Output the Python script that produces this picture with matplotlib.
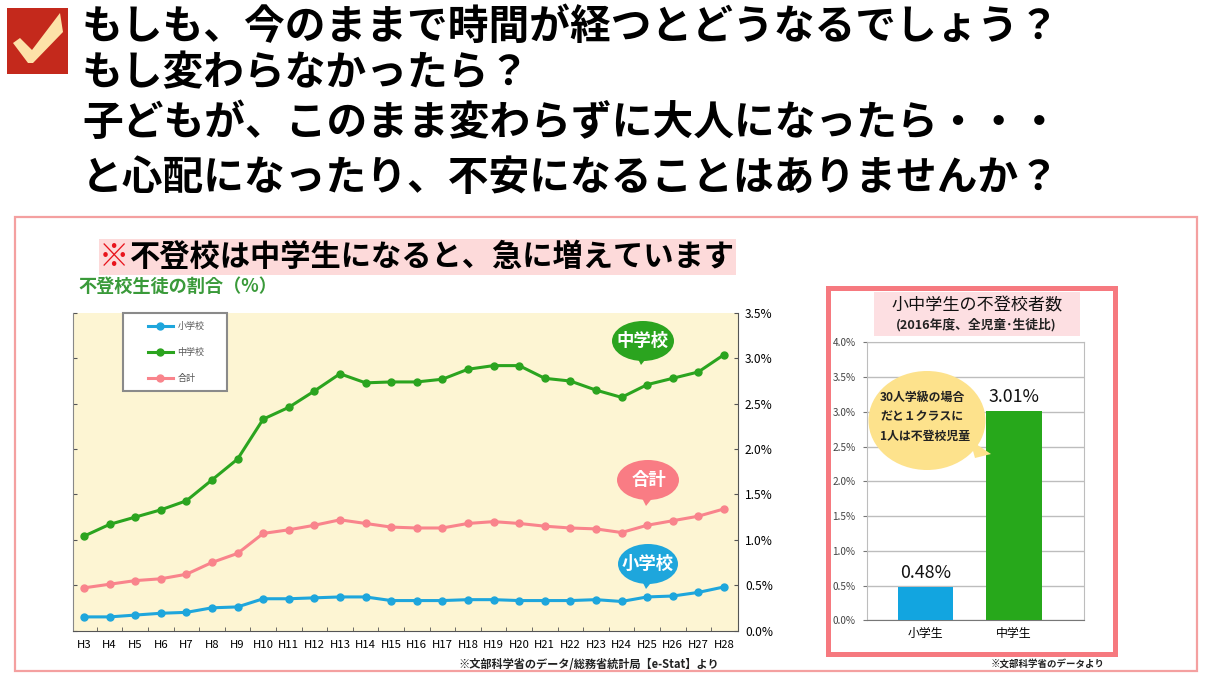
import numpy as np
import matplotlib.pyplot as plt
from matplotlib.patches import Ellipse, Rectangle

plt.rcParams["font.family"] = ["Noto Sans CJK JP", "DejaVu Sans"]

WIDTH = 1213
HEIGHT = 680

YEARS = [f"H{i}" for i in range(3, 29)]
ELEMENTARY = [0.15, 0.15, 0.17, 0.19, 0.20, 0.25, 0.26, 0.35, 0.35, 0.36, 0.37, 0.37, 0.33,
              0.33, 0.33, 0.34, 0.34, 0.33, 0.33, 0.33, 0.34, 0.32, 0.37, 0.38, 0.42, 0.48]
JUNIOR = [1.04, 1.17, 1.25, 1.33, 1.43, 1.66, 1.89, 2.33, 2.46, 2.64, 2.83, 2.73, 2.74,
          2.74, 2.77, 2.88, 2.92, 2.92, 2.78, 2.75, 2.65, 2.57, 2.71, 2.78, 2.85, 3.04]
TOTAL = [0.47, 0.51, 0.55, 0.57, 0.62, 0.75, 0.85, 1.07, 1.11, 1.16, 1.22, 1.18, 1.14,
         1.13, 1.13, 1.18, 1.20, 1.18, 1.15, 1.13, 1.12, 1.08, 1.16, 1.21, 1.26, 1.34]

BLUE = "#1ea6dc"
GREEN = "#2ba41f"
PINK = "#f9848c"


def pixel_rect(left, top, right, bottom):
    """
    Turn pixel edges of the picture into a rectangle for plt.axes.
    """
    return [left / WIDTH, 1 - bottom / HEIGHT, (right - left) / WIDTH, (bottom - top) / HEIGHT]


def plot_rates() -> None:
    """
    Plot the three yearly lines on the yellow panel.
    """
    plt.axes(pixel_rect(73, 313, 738, 630.5), facecolor="#fdf5d3")
    x = np.arange(len(YEARS))
    plt.plot(x, ELEMENTARY, color=BLUE, lw=2.2, marker="o", ms=5, label="小学校")
    plt.plot(x, JUNIOR, color=GREEN, lw=2.2, marker="o", ms=5, label="中学校")
    plt.plot(x, TOTAL, color=PINK, lw=2.2, marker="o", ms=5, label="合計")
    plt.xlim(-0.43, 25.55)
    plt.ylim(0, 3.5)

    plt.xticks(x, YEARS, fontsize=8.2)
    plt.xticks(np.arange(0.5, 25), minor=True)
    plt.yticks(np.arange(0, 3.6, 0.5), [f"{v:.1f}%" for v in np.arange(0, 3.6, 0.5)], fontsize=8.6)
    plt.tick_params(axis="x", which="major", length=0, pad=7)
    plt.tick_params(axis="x", which="minor", direction="in", length=3, color="#555555")
    plt.tick_params(axis="y", direction="in", length=3, color="#555555", left=True, right=True,
                    labelleft=False, labelright=True, pad=5)

    ax = plt.gca()
    ax.spines["top"].set_visible(False)
    ax.spines["left"].set_color("#888888")
    ax.spines["bottom"].set_color("#555555")
    ax.spines["right"].set_color("#555555")

    # the box of the legend is wider than its entries
    ax.add_patch(Rectangle((0.0747, 0.753), 0.157, 0.247, transform=ax.transAxes, facecolor="white",
                           edgecolor="#8a8a8a", lw=1.5, zorder=4, clip_on=False))
    legend = plt.legend(loc="upper left", bbox_to_anchor=(0.1125, 0.972), frameon=False, fontsize=6.5,
                        labelcolor="#555555", handlelength=2.8, handletextpad=0.5, labelspacing=1.9,
                        borderpad=0, borderaxespad=0)
    legend.set_zorder(5)


def plot_bars() -> None:
    """
    Plot the 2016 bars for the two school levels.
    """
    plt.axes(pixel_rect(866.7, 342.3, 1084, 620.3))
    rates = [0.48, 3.01]
    plt.bar([0, 1], rates, width=0.63, color=["#12a5e0", "#27a81b"], zorder=3)
    for i, rate in enumerate(rates):
        plt.text(i, rate + 0.07, f"{rate:.2f}%", ha="center", va="bottom", fontsize=12.8, color="#111111", zorder=4)
    plt.xlim(-0.664, 1.79)
    plt.ylim(0, 4)

    plt.xticks([0, 1], ["小学生", "中学生"], fontsize=8.6)
    plt.yticks(np.arange(0, 4.1, 0.5), [f"{v:.1f}%" for v in np.arange(0, 4.1, 0.5)],
               fontsize=7.2, color="#444444")
    plt.tick_params(axis="x", length=0, pad=5)
    plt.tick_params(axis="y", length=3, color="#777777", pad=5)
    plt.grid(axis="y", color="#bdbdbd", lw=1, zorder=0)

    ax = plt.gca()
    for side in ["top", "left", "right"]:
        ax.spines[side].set_color("#bdbdbd")
    ax.spines["bottom"].set_color("#777777")


def bubble(ax, cx, cy, w, h, tail, color) -> None:
    """
    Speech bubble: an ellipse with a small pointed tail.
    """
    ax.add_patch(Ellipse((cx, cy), w, h, facecolor=color, edgecolor="none"))
    plt.fill([tail[0] - 5, tail[0] + 8, tail[0]], [tail[1] - 10, tail[1] - 10, tail[1]], color=color, lw=0)


def plot_overlay() -> None:
    """
    Heading, frames, bubbles and notes, all placed in picture pixels.
    """
    ax = plt.axes([0, 0, 1, 1], zorder=5)
    plt.xlim(0, WIDTH)
    plt.ylim(HEIGHT, 0)
    plt.axis("off")

    # check mark
    ax.add_patch(Rectangle((7, 8), 61, 66, facecolor="#c4291c", edgecolor="none"))
    plt.fill([13, 20, 32, 60, 63, 33, 28], [43, 38, 50, 13, 32, 63, 63], color="#fde2a8", lw=0)

    lines = ["もしも、今のままで時間が経つとどうなるでしょう？", "もし変わらなかったら？",
             "子どもが、このまま変わらずに大人になったら・・・", "と心配になったり、不安になることはありませんか？"]
    for line, y in zip(lines, [27, 74, 123, 178]):
        plt.text(82, y, line, fontsize=29.3, fontweight="bold", va="center", color="black")

    # frames
    ax.add_patch(Rectangle((15, 217), 1182, 454, facecolor="none", edgecolor="#f4a0a0", lw=1.6))
    ax.add_patch(Rectangle((828, 288), 287, 366, facecolor="none", edgecolor="#f6797f", lw=3.6))

    # left heading
    ax.add_patch(Rectangle((99, 239), 637, 36, facecolor="#fddada", edgecolor="none"))
    plt.text(99, 257, "※", fontsize=21.8, fontweight="bold", va="center", color="#e8141c")
    plt.text(130, 257, "不登校は中学生になると、急に増えています", fontsize=21.8, fontweight="bold",
             va="center", color="black")
    plt.text(78, 286, "不登校生徒の割合（%）", fontsize=13.1, fontweight="bold", va="center", color="#3a9a3a")

    # right heading
    ax.add_patch(Rectangle((874, 292), 206, 44, facecolor="#fddfe2", edgecolor="none"))
    plt.text(977, 305, "小中学生の不登校者数", fontsize=12.3, ha="center", va="center", color="#111111")
    plt.text(976, 325, "(2016年度、全児童･生徒比)", fontsize=9.2, fontweight="bold", ha="center", va="center",
             color="#222222")

    # bubbles on the lines
    bubble(ax, 643, 341, 62, 40, (641, 365), GREEN)
    plt.text(643, 341, "中学校", fontsize=12.5, fontweight="bold", ha="center", va="center", color="white")
    bubble(ax, 648, 480, 62, 40, (646, 506), "#f97c84")
    plt.text(649, 480, "合計", fontsize=12.5, fontweight="bold", ha="center", va="center", color="white")
    bubble(ax, 648, 564, 60, 40, (646, 589), BLUE)
    plt.text(648, 564, "小学校", fontsize=12.5, fontweight="bold", ha="center", va="center", color="white")

    # bubble on the bars
    ax.add_patch(Ellipse((927, 420.5), 117, 99, facecolor="#fde28c", edgecolor="none"))
    plt.fill([970, 975, 991], [440, 458, 454], color="#fde28c", lw=0)
    for line, y in zip(["30人学級の場合", "だと１クラスに", "1人は不登校児童"], [397, 417, 436]):
        plt.text(880, y, line, fontsize=8.6, fontweight="bold", va="center", color="#222222")

    # sources
    plt.text(458, 664, "※文部科学省のデータ/総務省統計局【e-Stat】より", fontsize=8.05, fontweight="bold",
             va="center", color="#222222")
    plt.text(991, 664, "※文部科学省のデータより", fontsize=6.8, fontweight="bold", va="center", color="#222222")


if __name__ == "__main__":
    plt.figure(figsize=(WIDTH / 100, HEIGHT / 100), dpi=100)
    plot_rates()
    plot_bars()
    plot_overlay()
    plt.savefig("out.png", dpi=100)
